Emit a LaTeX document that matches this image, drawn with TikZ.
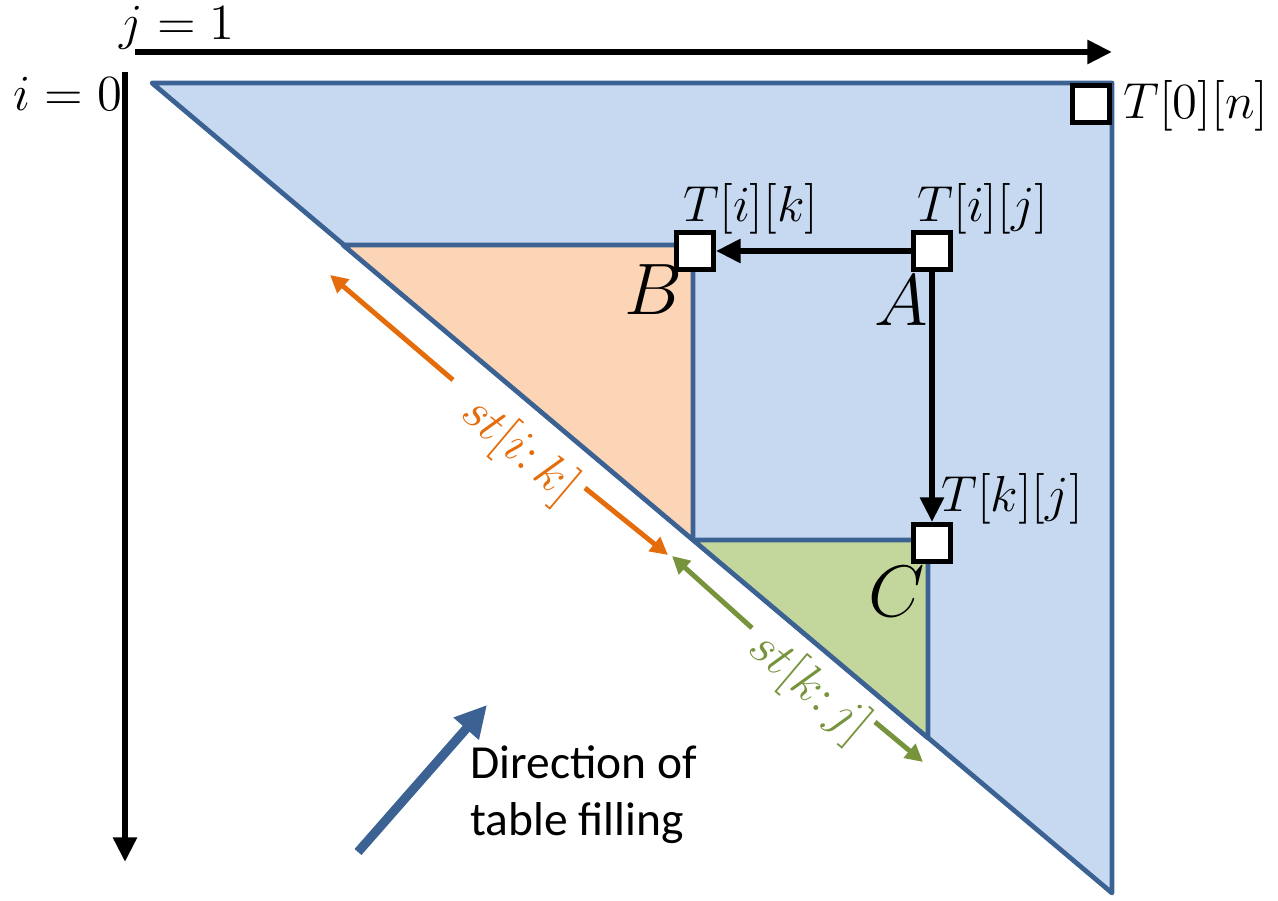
\documentclass[tikz,border=0pt]{standalone}
\usepackage{amsmath}
\usepackage{fontspec}
\setsansfont{Carlito}
\usepackage{tikz}
\usetikzlibrary{arrows.meta,positioning,calc}
\definecolor{cellblue}{HTML}{C6D9F1}
\definecolor{edgeblue}{HTML}{3B6293}
\definecolor{leftfill}{HTML}{FBD5B5}
\definecolor{rightfill}{HTML}{C3D69B}
\definecolor{leftline}{HTML}{E46C0A}
\definecolor{rightline}{HTML}{77933C}

\begin{document}
\begin{tikzpicture}[x=0.01cm, y=-0.01cm,
  >={Triangle[length=7pt, width=6.5pt]},
  edge/.style={draw=edgeblue, line width=1.35pt, line join=round},
  cell/.style={draw, fill=white, line width=1.4pt, minimum size=10.5pt, inner sep=0pt},
  axis/.style={->, line width=1.7pt},
  lab/.style={font=\fontsize{15}{18}\selectfont},
  axlab/.style={font=\fontsize{14}{17}\selectfont},
  big/.style={font=\fontsize{20}{24}\selectfont},
  seg/.style={line width=1.4pt, -{Triangle[length=5pt, width=5pt]}}]
\useasboundingbox (0,0) rectangle (1278,901);
\coordinate (tl) at (152,83); \coordinate (tr) at (1112,83); \coordinate (br) at (1112,893);
\filldraw[edge, fill=cellblue] (tl) -- (tr) -- (br) -- cycle;
\filldraw[edge, fill=leftfill] (343,245) -- (693,245) -- (693,540) -- cycle;
\filldraw[edge, fill=rightfill] (693,540) -- (928,540) -- (928,738) -- cycle;
\coordinate (j0) at (135,52); \coordinate (j1) at (1112,52);
\coordinate (i0) at (125,72); \coordinate (i1) at (125,862);
\draw[axis] (j0) -- (j1);
\draw[axis] (i0) -- (i1);
\node[axlab] (jlab) at (177,28) {$j=1$};
\node[axlab] (ilab) at (68,94) {$i=0$};
\node[cell] (zn) at (1091,104) {};
\node[cell] (ik) at (695,251) {};
\node[cell] (ij) at (932,251) {};
\node[cell] (kj) at (932,543) {};
\node[lab] (znlab) at (1196,106) {$T[0][n]$};
\node[lab] (iklab) at (751,209) {$T[i][k]$};
\node[lab] (ijlab) at (983,209) {$T[i][j]$};
\node[lab] (kjlab) at (1012,499) {$T[k][j]$};
\node[big] (B) at (653,290) {$B$};
\node[big] (A) at (901,301) {$A$};
\node[big] (C) at (897,592) {$C$};
\draw[->, line width=1.7pt] (ij) -- (ik);
\draw[->, line width=1.7pt] (ij) -- (kj);
\coordinate (o1) at (453,380); \coordinate (o2) at (330,275);
\coordinate (o3) at (585,488); \coordinate (o4) at (668,555);
\draw[seg, leftline] (o1) -- (o2); \draw[seg, leftline] (o3) -- (o4);
\node[lab, text=leftline, rotate=-40.16] (stik) at (519,451) {$st[i{:}\,k]$};
\coordinate (g1) at (752,628); \coordinate (g2) at (672,556);
\coordinate (g3) at (875,722); \coordinate (g4) at (923,762);
\draw[seg, rightline] (g1) -- (g2); \draw[seg, rightline] (g3) -- (g4);
\node[lab, text=rightline, rotate=-40.16] (stkj) at (809,688) {$st[k{:}\,j]$};
\coordinate (d0) at (358,852); \coordinate (d1) at (487,705);
\draw[edgeblue, line width=2.6pt, -{Triangle[length=9pt, width=9pt]}] (d0) -- (d1);
\node[font=\sffamily\fontsize{13.5}{16.2}\selectfont, align=left, anchor=north west] (dir) at (458,733) {Direction of\\table filling};
\end{tikzpicture}
\end{document}
